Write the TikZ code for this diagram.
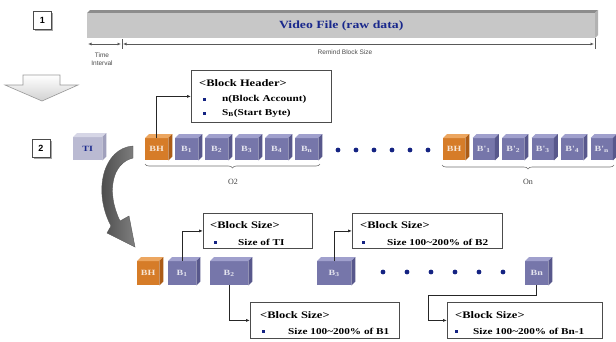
\documentclass[tikz,border=0pt]{standalone}
\usepackage{fontspec}
\setmainfont{Liberation Serif}
\newfontfamily\wide{Liberation Serif}[FakeStretch=1.25]
\newfontfamily\arialf{Liberation Sans}
\usetikzlibrary{arrows.meta,decorations.pathreplacing,shadows}
\definecolor{pfront}{RGB}{118,118,170}
\definecolor{ptop}{RGB}{160,160,205}
\definecolor{pside}{RGB}{88,88,140}
\definecolor{ofront}{RGB}{214,124,40}
\definecolor{otop}{RGB}{236,166,96}
\definecolor{oside}{RGB}{172,92,22}
\definecolor{gfront}{RGB}{186,186,210}
\definecolor{gtop}{RGB}{214,214,230}
\definecolor{gside}{RGB}{160,160,188}
\definecolor{dotblue}{RGB}{20,35,130}
\definecolor{txtblue}{RGB}{25,40,140}
\newcommand{\cubeblk}[9]{%
 \node[fill=#6, minimum width=#4pt, minimum height=#5pt, inner sep=0pt, anchor=north west,
   font=\wide\bfseries\fontsize{8}{9}\selectfont, text=white!80!#6] (#1) at (#2,#3) {#9};
 \fill[#7] (#1.north west) -- ++(4,-4) -- ([shift={(4,-4)}]#1.north east) -- (#1.north east) -- cycle;
 \fill[#8] (#1.north east) -- ++(4,-4) -- ([shift={(4,-4)}]#1.south east) -- (#1.south east) -- cycle;
}
\begin{document}
\begin{tikzpicture}[x=1pt,y=-1pt,
  infobox/.style={draw=black!70, line width=0.8pt, fill=white, inner sep=0pt, anchor=north west},
  hdtxt/.style={anchor=west, inner sep=0pt, font=\wide\bfseries\fontsize{10}{12}\selectfont},
  bultxt/.style={anchor=west, inner sep=0pt, font=\wide\bfseries\fontsize{9}{11}\selectfont},
  bul/.style={fill=dotblue, minimum size=3pt, inner sep=0pt},
  bigdot/.style={circle, fill=dotblue, minimum size=4.8pt, inner sep=0pt},
  conn/.style={draw=black!85, line width=0.7pt, -{Latex[length=4pt,width=3pt]}},
  dimline/.style={draw=black!65, line width=0.8pt, {Latex[length=3.5pt,width=3pt]}-{Latex[length=3.5pt,width=3pt]}},
  numbox/.style={draw=black!70, fill=white, minimum size=18pt, inner sep=0pt,
    font=\arialf\bfseries\fontsize{9}{10}\selectfont,
    drop shadow={shadow xshift=1.5pt, shadow yshift=-1.5pt, fill=black!35, opacity=1}},
  smallsans/.style={inner sep=0pt, text=black!70, font=\arialf\fontsize{6.5}{7}\selectfont},
  bracelbl/.style={inner sep=0pt, text=black!75, font=\fontsize{8}{9}\selectfont},
  brc/.style={draw=black!55, line width=0.6pt, decorate, decoration={brace, amplitude=4pt, mirror}}
]
\useasboundingbox (0,0) rectangle (616,341);
\fill[white] (0,0) rectangle (616,341);

% ---------- section 1 ----------
\node[numbox] (n1) at (42.5,20) {1};
\fill[black!45] (87,13) -- (90,10) -- (598,10) -- (595,13) -- cycle;
\fill[black!30] (595,13) -- (598,10) -- (598,35) -- (595,38) -- cycle;
\node[fill=black!22, minimum width=508pt, minimum height=25pt, inner sep=0pt, anchor=north west,
  text=txtblue, font=\wide\bfseries\fontsize{11}{13}\selectfont] (vbar) at (87,13) {Video File (raw data)};
\coordinate (d0) at (88,44);
\coordinate (d1) at (121,44);
\coordinate (d2) at (123,44);
\coordinate (d3) at (594,44);
\draw[dimline] (d0) -- (d1);
\draw[dimline] (d2) -- (d3);
\draw[black!65, line width=0.7pt] (122,39) -- (122,49);
\draw[black!65, line width=0.7pt] (595,38) -- (595,49);
\node[smallsans] (tiA) at (102,55) {Time};
\node[smallsans] (tiB) at (102,63) {Interval};
\node[smallsans] (rbs) at (345,52) {Remind Block Size};

% down arrow
\shade[top color=white, bottom color=black!18, draw=black!40, line width=0.6pt]
  (23,75) -- (60,75) -- (60,85) -- (78,85) -- (42,101) -- (5,85) -- (23,85) -- cycle;

% ---------- section 2 ----------
\node[numbox] (n2) at (41,148.5) {2};
\cubeblk{ti}{73}{137}{29}{23}{gfront}{gtop}{gside}{\textcolor{txtblue}{TI}}
\cubeblk{bha}{145}{138}{23}{22}{ofront}{otop}{oside}{BH}
\cubeblk{ba1}{175}{138}{23}{22}{pfront}{ptop}{pside}{B\textsubscript{1}}
\cubeblk{ba2}{205}{138}{23}{22}{pfront}{ptop}{pside}{B\textsubscript{2}}
\cubeblk{ba3}{235}{138}{23}{22}{pfront}{ptop}{pside}{B\textsubscript{3}}
\cubeblk{ba4}{265}{138}{23}{22}{pfront}{ptop}{pside}{B\textsubscript{4}}
\cubeblk{ban}{295}{138}{23}{22}{pfront}{ptop}{pside}{B\textsubscript{n}}
\foreach \i/\xx in {1/338,2/356,3/374,4/392,5/410,6/428} \node[bigdot] (dA\i) at (\xx,150) {};
\cubeblk{bhb}{443}{138}{22}{22}{ofront}{otop}{oside}{BH}
\cubeblk{bb1}{472.5}{138}{22}{22}{pfront}{ptop}{pside}{B'\textsubscript{1}}
\cubeblk{bb2}{502}{138}{22}{22}{pfront}{ptop}{pside}{B'\textsubscript{2}}
\cubeblk{bb3}{531.5}{138}{22}{22}{pfront}{ptop}{pside}{B'\textsubscript{3}}
\cubeblk{bb4}{561}{138}{22}{22}{pfront}{ptop}{pside}{B'\textsubscript{4}}
\cubeblk{bbn}{590.5}{138}{22}{22}{pfront}{ptop}{pside}{B'\textsubscript{n}}

\coordinate (brA0) at (145,164);
\coordinate (brA1) at (320,164);
\coordinate (brB0) at (442,165);
\coordinate (brB1) at (614,165);
\draw[brc] (brA0) -- (brA1);
\draw[brc] (brB0) -- (brB1);
\node[bracelbl] (o2) at (233,182) {O2};
\node[bracelbl] (on) at (528,182) {On};

% block header box
\node[infobox, minimum width=140pt, minimum height=52pt] (hdr) at (191,70) {};
\node[hdtxt] (hdrt) at (199,83) {\textless Block Header\textgreater};
\node[bul] (hdrb1) at (204,99) {};
\node[bultxt] (hdrl1) at (222,99) {n(Block Account)};
\node[bul] (hdrb2) at (204,113) {};
\node[bultxt] (hdrl2) at (222,113) {S\textsubscript{B}(Start Byte)};
\draw[conn] (bha.north) |- (hdr.west);

% curved arrow
\shade[left color=black!75, right color=black!50, draw=black!65, line width=0.4pt]
  (133,146) .. controls (104,148) and (92,190) .. (111,226)
  -- (107,233) -- (135,247) -- (129,216) -- (120,221)
  .. controls (106,192) and (112,163) .. (133,158) -- cycle;

% ---------- section 3 ----------
\cubeblk{bhc}{137}{261}{22}{24}{ofront}{otop}{oside}{BH}
\cubeblk{bc1}{168}{261}{28}{24}{pfront}{ptop}{pside}{B\textsubscript{1}}
\cubeblk{bc2}{210}{261}{38}{24}{pfront}{ptop}{pside}{B\textsubscript{2}}
\cubeblk{bc3}{317}{261}{34}{24}{pfront}{ptop}{pside}{B\textsubscript{3}}
\cubeblk{bcn}{525}{261}{23}{24}{pfront}{ptop}{pside}{Bn}
\foreach \i/\xx in {1/383,2/407,3/431,4/455,5/479,6/503} \node[bigdot] (dB\i) at (\xx,272) {};

\node[infobox, minimum width=109pt, minimum height=35pt] (boxA) at (203,213) {};
\node[hdtxt] (boxAt) at (210,225) {\textless Block Size\textgreater};
\node[bul] (boxAb) at (215,242) {};
\node[bultxt] (boxAl) at (238,242) {Size of TI};

\node[infobox, minimum width=149pt, minimum height=36pt] (boxB) at (250,302) {};
\node[hdtxt] (boxBt) at (260,315) {\textless Block Size\textgreater};
\node[bul] (boxBb) at (263,331) {};
\node[bultxt] (boxBl) at (288,331) {Size 100\textasciitilde200\% of B1};

\node[infobox, minimum width=150pt, minimum height=35pt] (boxC) at (352,213) {};
\node[hdtxt] (boxCt) at (360,225) {\textless Block Size\textgreater};
\node[bul] (boxCb) at (363,242) {};
\node[bultxt] (boxCl) at (387,242) {Size 100\textasciitilde200\% of B2};

\node[infobox, minimum width=155pt, minimum height=36pt] (boxD) at (447,302) {};
\node[hdtxt] (boxDt) at (455,315) {\textless Block Size\textgreater};
\node[bul] (boxDb) at (456,331) {};
\node[bultxt] (boxDl) at (473,331) {Size 100\textasciitilde200\% of Bn-1};

\draw[conn] (bc1.north) |- (boxA.west);
\draw[conn] (bc2.south) |- (boxB.west);
\draw[conn] (bc3.north) |- (boxC.west);
\coordinate (dturn) at (428,295);
\draw[conn] (bcn.south) |- (dturn) |- (boxD.west);
\end{tikzpicture}
\end{document}
